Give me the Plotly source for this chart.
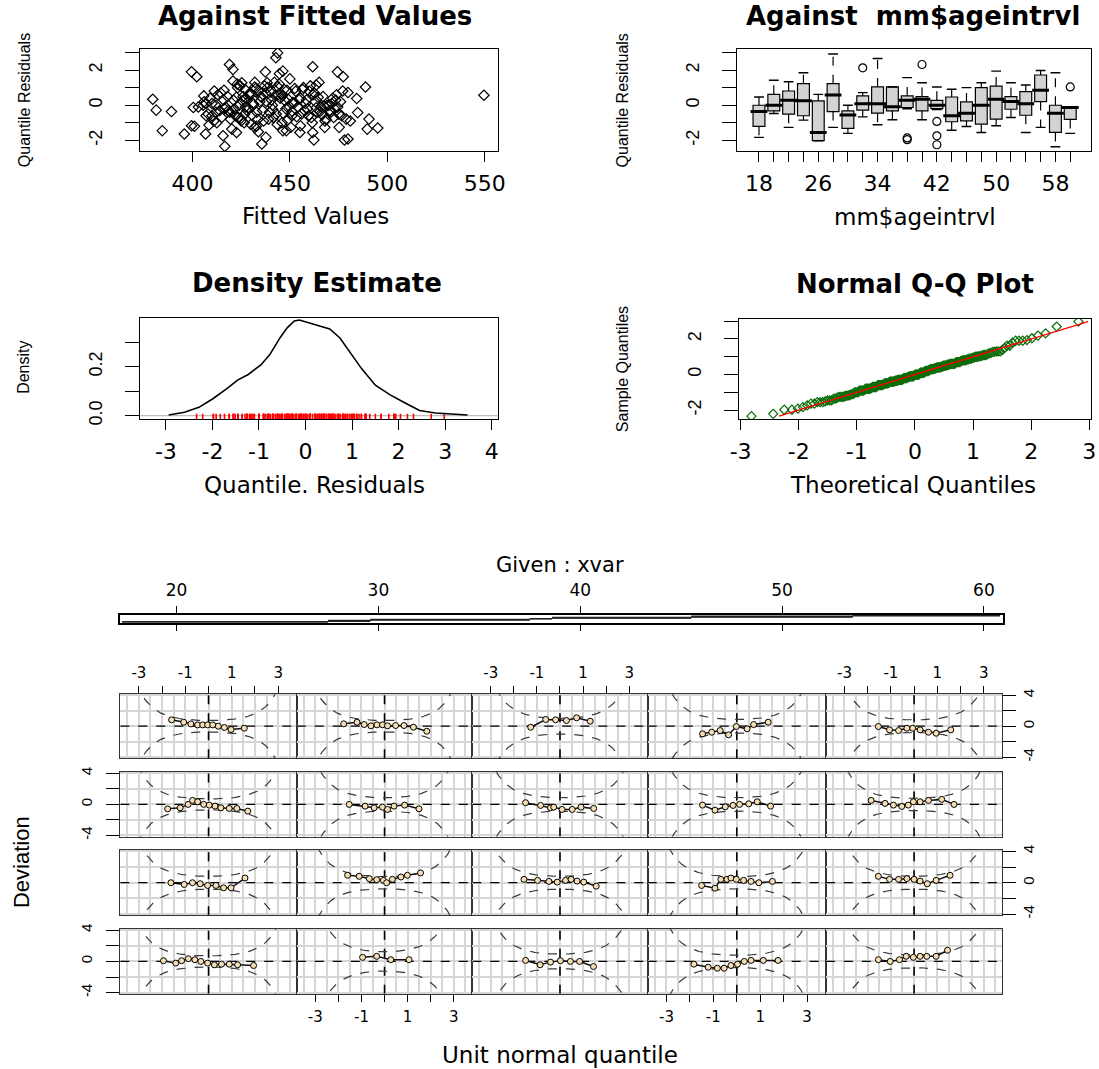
import plotly.graph_objects as go
from statistics import NormalDist

# ---------------- data ----------------
fitted = [
    379.6, 381.4, 389.2, 384.5, 395.8, 399.5, 402.2, 399.5, 400.4, 406.7,
    405.8, 411.2, 408.5, 416.2, 415.7, 416.6, 419.0, 420.8, 420.2, 422.6,
    420.8, 425.3, 432.0, 432.0, 433.8, 435.6, 437.7, 437.4, 443.7, 442.8,
    444.6, 446.4, 438.3, 446.4, 448.2, 455.4, 455.1, 461.7, 461.7, 462.3,
    463.5, 474.4, 477.4, 478.0, 479.8, 467.9, 475.3, 478.9, 488.8, 484.3,
    484.8, 490.6, 489.7, 495.1, 549.6, 477.1, 479.8, 401.0, 410.0, 412.0,
    407.0, 403.0,
    406, 408, 409, 411, 412, 413, 414, 415, 416, 417,
    418, 419, 407, 410, 412.5, 414.5, 416.5, 418.5, 419.5, 405.5,
    421, 422, 423, 424, 425, 426, 427, 428, 429, 430,
    431, 432, 433, 434, 421.5, 422.5, 423.5, 424.5, 425.5, 426.5,
    427.5, 428.5, 429.5, 430.5, 431.5, 432.5, 433.5, 434.5, 420.5, 423.2,
    426.8, 429.8, 432.8, 427.2, 424.8,
    435, 436, 437, 438, 439, 440, 441, 442, 443, 444,
    445, 446, 447, 448, 449, 450, 451, 452, 453, 454,
    435.5, 436.5, 437.5, 438.5, 439.5, 440.5, 441.5, 442.5, 443.5, 444.5,
    445.5, 446.5, 447.5, 448.5, 449.5, 450.5, 451.5, 452.5, 453.5, 454.5,
    441.2, 443.8, 446.2, 448.8, 451.2,
    455.5, 456, 457, 458, 459, 460, 461, 462, 463, 464,
    465, 466, 467, 468, 469, 456.5, 457.5, 458.5, 459.5, 460.5,
    461.5, 462.5, 463.5, 464.5, 465.5, 466.5, 467.5, 468.5,
    470, 471, 472, 473, 474, 475, 476, 470.5, 471.5, 472.5,
    473.5, 474.5, 476.5, 481,
]
resid = [
    0.34, -0.28, -0.36, -1.45, -1.64, 1.90, 1.62, -1.17, -0.13, -1.64,
    0.53, 0.81, -1.13, 0.85, -1.74, -2.34, 2.32, 2.04, -1.36, -1.55,
    1.38, 1.28, 1.04, -1.26, -1.51, -2.21, -1.83, 1.90, 2.98, 2.70,
    1.79, 1.94, 1.28, -1.45, -1.45, -1.17, -1.55, 2.19, -1.55, -1.98,
    1.15, 1.90, 1.62, -1.98, -1.92, -1.26, -1.26, -0.79, 1.04, 0.38,
    -0.42, -0.79, -1.36, -1.30, 0.57, 0.81, 0.72, -1.20, -0.60, -0.40,
    0.10, -0.10,
    0.2, -0.5, 0.4, -0.9, 0.0, 0.6, -0.3, -0.7, 0.3, -0.1,
    0.5, -0.4, -0.6, 0.1, -1.0, 0.7, -0.2, -0.3, -0.8, 0.0,
    0.3, -0.6, 1.2, 0.0, -0.9, 0.5, 0.9, -0.3, 0.6, -1.1,
    0.1, 1.3, -0.4, 0.8, -0.2, 0.45, -0.7, 1.1, 0.25, -1.0,
    0.4, -0.15, 0.7, -0.55, 0.05, 0.95, -0.8, 0.2, -0.35, 1.0,
    -0.5, 0.6, -1.2, -0.1, -0.75,
    0.5, -0.3, 1.1, 0.2, -0.8, 0.75, 0.0, 1.3, -0.5, 0.6,
    0.4, -1.0, 0.9, -0.2, 0.35, 1.5, -0.6, 0.1, 0.8, -0.1,
    0.45, -0.9, 0.7, 1.0, -0.4, 0.3, -0.7, 0.55, -1.1, 1.2,
    0.65, -0.45, 0.25, 0.85, -0.05, -1.25, 0.15, 0.95, -0.65, 0.35,
    -0.25, 1.05, 0.55, -0.85, -0.35,
    0.4, -0.5, 1.0, 0.1, -0.2, 0.8, -0.7, 0.6, 0.2, -0.4,
    1.3, -0.1, 0.5, -0.9, 0.0, 0.9, -0.3, 0.3, -0.6, 1.1,
    -1.0, 0.7, -0.15, 0.45, -0.35, -0.55, -0.05, -0.8,
    0.0, -0.4, 0.4, -0.2, 0.6, -0.5, 0.2, -0.3, 0.1, -0.7,
    0.3, -0.1, -0.6, -0.9,
]

age_cats = [18, 20, 22, 24, 26, 28, 30, 32, 34, 36, 38,
            40, 42, 44, 46, 48, 50, 52, 54, 56, 58, 60]
box_q1 = [-1.2, -0.32, -0.51, -0.6, -2.02, -0.36, -1.32, -0.28, -0.45, -0.32, -0.13,
          -0.32, -0.19, -0.94, -0.89, -1.08, -0.79, -0.23, -0.57, 0.21, -1.55, -0.81]
box_med = [-0.36, 0.0, 0.28, 0.25, -1.55, 0.58, -0.55, 0.09, 0.09, -0.09, 0.28,
           0.34, 0.0, -0.6, -0.45, 0.0, 0.34, 0.21, 0.09, 0.85, -0.45, -0.13]
box_q3 = [0.0, 0.62, 0.81, 1.23, 0.25, 1.23, -0.32, 0.53, 1.04, 1.04, 0.53,
          0.49, 0.28, 0.47, 0.19, 1.0, 1.09, 0.49, 0.77, 1.72, 0.0, -0.09]
box_lo = [-1.83, -0.47, -1.26, -0.85, -2.02, -1.26, -1.6, -0.66, -1.11, -0.83, -0.2,
          -0.83, -0.25, -1.42, -1.21, -1.55, -1.17, -0.7, -1.55, -1.26, -2.36, -1.6]
box_hi = [0.47, 1.42, 1.34, 1.85, 0.62, 2.92, 0.0, 0.72, 2.66, 1.04, 1.57,
          1.28, 1.04, 0.91, 1.0, 1.28, 1.94, 1.28, 1.15, 1.98, 1.85, -0.09]
out_cat = [32, 38, 38, 40, 42, 42, 42, 60]
out_val = [2.13, -1.86, -1.96, 2.32, -0.92, -1.74, -2.25, 1.04]

dens_x = [-2.94, -2.6, -2.29, -1.99, -1.69, -1.46, -1.23, -0.96, -0.77, -0.55, -0.39, -0.24, -0.13,
          0.06, 0.29, 0.52, 0.74, 0.97, 1.2, 1.5, 1.81, 2.11, 2.45, 2.79, 3.17, 3.48]
dens_y = [0.003, 0.014, 0.034, 0.069, 0.11, 0.145, 0.168, 0.207, 0.248, 0.317, 0.359, 0.386, 0.39,
          0.379, 0.368, 0.354, 0.317, 0.255, 0.193, 0.124, 0.086, 0.055, 0.021, 0.011, 0.007, 0.003]

given_lo = [17.3, 17.3, 17.3, 27.5, 27.5, 27.5, 29.6, 29.6, 29.6, 37.5,
            37.5, 38.6, 38.6, 38.6, 45.5, 45.5, 45.5, 53.5, 53.5, 53.5]
given_hi = [27.5, 27.5, 27.5, 29.6, 29.6, 29.6, 37.5, 37.5, 37.5, 38.6,
            38.6, 45.5, 45.5, 45.5, 53.5, 53.5, 53.5, 60.8, 60.8, 60.8]

# worm panels, row-major from the top-left panel
worm_x = [
    [-1.59, -1.07, -0.76, -0.47, -0.25, -0.04, 0.18, 0.42, 0.68, 0.97, 1.54],
    [-1.77, -1.19, -0.88, -0.59, -0.33, -0.09, 0.13, 0.48, 0.84, 1.25, 1.83],
    [-1.27, -0.62, -0.19, 0.28, 0.72, 1.31],
    [-1.46, -1.07, -0.71, -0.35, -0.02, 0.44, 0.72, 1.34],
    [-1.54, -1.06, -0.67, -0.31, -0.06, 0.26, 0.62, 0.95, 1.58],
    [-1.76, -1.22, -0.88, -0.69, -0.47, -0.21, 0.03, 0.28, 0.53, 0.89, 1.22, 1.69],
    [-1.53, -0.84, -0.45, -0.09, 0.13, 0.41, 0.87, 1.49],
    [-1.49, -0.84, -0.41, -0.27, 0.09, 0.53, 0.91, 1.46],
    [-1.46, -0.93, -0.49, -0.16, 0.12, 0.51, 0.87, 1.44],
    [-1.85, -1.25, -0.89, -0.53, -0.25, -0.03, 0.26, 0.62, 1.19, 1.72],
    [-1.62, -1.05, -0.69, -0.36, -0.04, 0.32, 0.65, 0.97, 1.57],
    [-1.6, -1.1, -0.66, -0.34, -0.05, 0.09, 0.34, 0.71, 0.99, 1.56],
    [-1.56, -0.97, -0.48, -0.12, 0.24, 0.48, 0.74, 1.03, 1.57],
    [-1.5, -0.93, -0.68, -0.42, -0.25, -0.02, 0.29, 0.61, 0.94, 1.52],
    [-1.54, -1.06, -0.67, -0.31, 0.0, 0.26, 0.57, 0.95, 1.55],
    [-1.94, -1.41, -1.16, -0.87, -0.59, -0.33, -0.04, 0.25, 0.56, 0.89, 1.25, 1.94],
    [-0.95, -0.34, 0.27, 1.06],
    [-1.49, -0.86, -0.41, 0.02, 0.45, 0.85, 1.45],
    [-1.83, -1.22, -0.83, -0.54, -0.25, 0.03, 0.32, 0.61, 1.13, 1.76],
    [-1.54, -1.03, -0.63, -0.34, -0.03, 0.26, 0.55, 0.95, 1.44],
]
worm_y = [
    [0.83, 0.52, 0.30, 0.17, 0.17, 0.17, 0.17, 0.0, -0.17, -0.43, -0.26],
    [0.31, 0.52, 0.22, 0.05, 0.18, 0.18, 0.05, 0.09, 0.09, -0.13, -0.65],
    [-0.13, 0.87, 0.83, 0.74, 1.09, 0.65],
    [-0.99, -0.78, -0.56, -1.12, -0.04, -0.34, 0.22, 0.52],
    [-0.04, -0.47, -0.56, -0.26, -0.26, -0.47, -0.78, -0.91, -0.47],
    [-0.57, -0.44, 0.0, 0.52, 0.34, 0.0, -0.09, -0.22, -0.44, -0.52, -0.52, -0.87],
    [0.0, -0.22, -0.44, -0.35, -0.65, -0.22, -0.09, -0.57],
    [0.22, -0.13, -0.44, -0.35, -0.65, -0.65, -0.35, -0.52],
    [-0.09, -0.74, -0.31, -0.13, 0.0, 0.08, 0.34, -0.22],
    [0.52, 0.13, -0.09, -0.26, -0.09, 0.34, 0.34, 0.52, 0.65, 0.0],
    [0.0, -0.22, 0.0, -0.13, -0.35, -0.35, -0.65, -0.65, 0.6],
    [0.95, 0.82, 0.52, 0.39, 0.3, 0.0, 0.43, 0.73, 0.95, 1.25],
    [0.43, 0.3, 0.17, 0.08, 0.3, 0.43, 0.21, 0.08, -0.44],
    [-0.35, -0.7, 0.43, 0.43, 0.6, 0.43, 0.3, 0.17, 0.0, 0.17],
    [0.82, 0.43, 0.43, 0.52, 0.43, 0.21, -0.13, 0.3, 0.95],
    [0.09, -0.22, 0.09, 0.35, 0.22, 0.0, -0.22, -0.43, -0.35, -0.35, -0.43, -0.52],
    [0.52, 0.65, 0.22, 0.22],
    [0.13, -0.43, -0.09, 0.09, 0.0, 0.0, -0.65],
    [-0.35, -0.74, -0.87, -0.87, -0.52, -0.35, 0.0, 0.13, 0.13, 0.13],
    [0.22, 0.0, 0.22, 0.65, 0.52, 0.65, 0.65, 0.65, 1.43],
]

# ---------------- layout helpers ----------------
# The page keeps the default 8px body margin and the photograph shrinks the
# page (figure + margins) to the window, so target positions are mapped back.
W, H = 1099, 1069
OFF = 8
SX = W / (W + 2 * OFF)
SY = H / (H + 2 * OFF)
HF = 'DejaVu Sans'
VF = 'Liberation Sans'
BLACK = 'black'


def fx(px):
    return (px / SX - OFF) / W


def fy(py):
    return 1 - (py / SY - OFF) / H


def xdom(a, b):
    return [max(0.0, fx(a)), min(1.0, fx(b))]


def ydom(top, bot):
    return [max(0.0, fy(bot)), min(1.0, fy(top))]


def akey(k, i):
    return f'{k}axis' + ('' if i == 1 else str(i))


def aref(k, i):
    return k + ('' if i == 1 else str(i))


def lab(vals, show=None):
    return [(str(v) if (show is None or v in show) else '') for v in vals]


def frame(**kw):
    d = dict(showline=True, linecolor=BLACK, linewidth=1.3, mirror=True, zeroline=False,
             showgrid=False, ticks='outside', tickcolor=BLACK, tickwidth=1.2)
    d.update(kw)
    return d


fig = go.Figure()
axes = {}
annots = []

XT = dict(family=HF, size=22, color=BLACK)
YT = dict(family=VF, size=18, color=BLACK)

# ---- panel 1: residuals vs fitted ----
res_ticks = [-2, -1, 0, 1, 2, 3]
axes[akey('x', 1)] = frame(domain=xdom(139.3, 497.2), range=[373.2, 556.7], anchor='y',
                          tickvals=[400, 450, 500, 550], ticktext=lab([400, 450, 500, 550]),
                          ticklen=10, tickfont=XT, ticklabelstandoff=2)
axes[akey('y', 1)] = frame(domain=ydom(51.7, 153.3), range=[-2.61, 3.2], anchor='x',
                          tickvals=res_ticks, ticktext=lab(res_ticks, {-2, 0, 2}),
                          ticklen=14, tickangle=-90, tickfont=YT, ticklabelstandoff=16)
fig.add_trace(go.Scatter(x=fitted, y=resid, mode='markers', xaxis='x', yaxis='y',
                         marker=dict(symbol='diamond-open', size=8, color=BLACK, line=dict(width=1.2))))

# ---- panel 2: boxplots by age interval ----
idx = list(range(1, len(age_cats) + 1))
axes[akey('x', 2)] = frame(domain=xdom(736.9, 1096.5), range=[-0.47, 23.4], anchor='y2',
                          tickvals=idx, ticktext=[str(a) if k % 4 == 0 else '' for k, a in enumerate(age_cats)],
                          ticklen=10, tickfont=XT, ticklabelstandoff=2)
axes[akey('y', 2)] = frame(domain=ydom(51.7, 153.3), range=[-2.61, 3.2], anchor='x2',
                          tickvals=res_ticks, ticktext=lab(res_ticks, {-2, 0, 2}),
                          ticklen=14, tickangle=-90, tickfont=YT, ticklabelstandoff=16)
fig.add_trace(go.Box(x=idx, q1=box_q1, median=box_med, q3=box_q3, lowerfence=box_q1, upperfence=box_q3,
                     width=0.8, whiskerwidth=0, fillcolor='#d3d3d3', line=dict(color=BLACK, width=1.2),
                     boxpoints=False, xaxis='x2', yaxis='y2'))
wx, wy = [], []
for i, xi in enumerate(idx):
    wx += [xi, xi, None, xi, xi, None]
    wy += [box_q3[i], box_hi[i], None, box_q1[i], box_lo[i], None]
fig.add_trace(go.Scatter(x=wx, y=wy, mode='lines', xaxis='x2', yaxis='y2',
                         line=dict(color=BLACK, width=1.2, dash='dash')))
fig.add_trace(go.Scatter(x=idx + idx, y=box_hi + box_lo, mode='markers', xaxis='x2', yaxis='y2',
                         marker=dict(symbol='line-ew', size=7, line=dict(width=1.4, color=BLACK))))
fig.add_trace(go.Scatter(x=idx, y=box_med, mode='markers', xaxis='x2', yaxis='y2',
                         marker=dict(symbol='line-ew', size=12, line=dict(width=3, color=BLACK))))
fig.add_trace(go.Scatter(x=[age_cats.index(c) + 1 for c in out_cat], y=out_val, mode='markers',
                         xaxis='x2', yaxis='y2',
                         marker=dict(symbol='circle-open', size=8, color=BLACK, line=dict(width=1.2))))

# ---- panel 3: density estimate ----
dens_xr = [-3.55, 4.13]
dens_yr = [-0.0135, 0.399]
dx_ticks = [-3, -2, -1, 0, 1, 2, 3, 4]
axes[akey('x', 3)] = frame(domain=xdom(139.3, 497.2), range=dens_xr, anchor='y3',
                          tickvals=dx_ticks, ticktext=lab(dx_ticks), ticklen=10, tickfont=XT, ticklabelstandoff=2)
axes[akey('y', 3)] = frame(domain=ydom(319.3, 420), range=dens_yr, anchor='x3',
                          tickvals=[0, 0.1, 0.2, 0.3], ticktext=['0.0', '', '0.2', ''],
                          ticklen=14, tickangle=-90, tickfont=YT, ticklabelstandoff=16)
fig.add_trace(go.Scatter(x=dens_xr, y=[0, 0], mode='lines', xaxis='x3', yaxis='y3',
                         line=dict(color='#bebebe', width=1.2)))
fig.add_trace(go.Scatter(x=resid, y=[dens_yr[0] / 2] * len(resid), mode='markers', xaxis='x3', yaxis='y3',
                         marker=dict(symbol='line-ns', size=5, line=dict(width=1.6, color='red'))))
fig.add_trace(go.Scatter(x=dens_x, y=dens_y, mode='lines', xaxis='x3', yaxis='y3',
                         line=dict(color=BLACK, width=1.6)))

# ---- panel 4: normal QQ ----
nd = NormalDist()
srt = sorted(resid)
n = len(srt)
theo = [nd.inv_cdf((k + 0.5) / n) for k in range(n)]
qx_ticks = [-3, -2, -1, 0, 1, 2, 3]
axes[akey('x', 4)] = frame(domain=xdom(738.6, 1095.8), range=[-3.03, 3.03], anchor='y4',
                          tickvals=qx_ticks, ticktext=lab(qx_ticks), ticklen=10, tickfont=XT, ticklabelstandoff=2)
axes[akey('y', 4)] = frame(domain=ydom(320, 420), range=[-2.5, 3.15], anchor='x4',
                          tickvals=res_ticks, ticktext=lab(res_ticks, {-2, 0, 2}),
                          ticklen=14, tickangle=-90, tickfont=YT, ticklabelstandoff=16)
fig.add_trace(go.Scatter(x=theo, y=srt, mode='markers', xaxis='x4', yaxis='y4',
                         marker=dict(symbol='diamond-open', size=7, color='#0b6e0b', line=dict(width=1.2))))
fig.add_trace(go.Scatter(x=srt, y=srt, mode='lines', xaxis='x4', yaxis='y4',
                         line=dict(color='red', width=1.3)))

# ---- panel 5: given panel ----
g_ticks = [20, 30, 40, 50, 60]
axes[akey('x', 5)] = dict(domain=xdom(119.3, 1002.7), range=[17.21, 60.93], anchor='y5', side='top',
                          showline=True, linecolor=BLACK, linewidth=1.5, mirror='ticks', ticks='outside',
                          ticklen=7, tickwidth=1.3, tickcolor=BLACK, tickvals=g_ticks, ticktext=lab(g_ticks),
                          tickfont=dict(family=HF, size=17, color=BLACK), zeroline=False, showgrid=False,
                          ticklabelstandoff=3)
axes[akey('y', 5)] = dict(domain=ydom(615, 622.7), range=[0, 1], anchor='x5', showline=True, linecolor=BLACK,
                          linewidth=1.5, mirror=True, ticks='', showticklabels=False, zeroline=False, showgrid=False)
gx, gy = [], []
for k in range(len(given_lo)):
    lvl = (k + 0.5) / len(given_lo)
    gx += [given_lo[k], given_hi[k], None]
    gy += [lvl, lvl, None]
fig.add_trace(go.Scatter(x=gx, y=gy, mode='lines', xaxis='x5', yaxis='y5', line=dict(color='#222', width=1.3)))

# ---- worm panels ----
col_l = [119.3, 296.0, 471.7, 647.3, 825.7]
col_r = [296.0, 471.7, 647.3, 825.7, 1002.3]
row_t = [694.0, 771.7, 849.3, 927.7]
row_b = [757.7, 835.7, 914.0, 992.3]
GRID = '#d6d6d6'
WX_RANGE = [-3.8, 3.8]
WY_RANGE = [-4.15, 4.15]
wx_ticks = [-3, -2, -1, 0, 1, 2, 3]
wy_ticks = [-4, -2, 0, 2, 4]
zgrid = [-3.8 + 0.05 * k for k in range(153)]
for r in range(4):
    for c in range(5):
        p = r * 5 + c
        i = 6 + p
        xa = dict(domain=xdom(col_l[c], col_r[c]), range=WX_RANGE, anchor=aref('y', i),
                  showline=True, linecolor='#333', linewidth=1.1, mirror=True, zeroline=False,
                  tickvals=wx_ticks, ticktext=lab(wx_ticks, {-3, -1, 1, 3}),
                  showgrid=True, gridcolor=GRID, gridwidth=1.5,
                  minor=dict(tickmode='linear', tick0=0.5, dtick=1, showgrid=True, gridcolor=GRID,
                             gridwidth=1.5, ticks=''),
                  tickfont=dict(family=HF, size=15, color=BLACK), tickcolor=BLACK, tickwidth=1.2)
        if r == 0 and c in (0, 2, 4):
            xa.update(side='top', ticks='outside', ticklen=7, showticklabels=True, ticklabelstandoff=2)
        elif r == 3 and c in (1, 3):
            xa.update(side='bottom', ticks='outside', ticklen=7, showticklabels=True, ticklabelstandoff=2)
        else:
            xa.update(ticks='', showticklabels=False)
        ya = dict(domain=ydom(row_t[r], row_b[r]), range=WY_RANGE, anchor=aref('x', i),
                  showline=True, linecolor='#333', linewidth=1.1, mirror=True, zeroline=False,
                  tickvals=wy_ticks, ticktext=lab(wy_ticks, {-4, 0, 4}),
                  showgrid=True, gridcolor=GRID, gridwidth=1.5,
                  tickfont=dict(family=VF, size=15, color=BLACK), tickcolor=BLACK, tickwidth=1.2,
                  tickangle=-90)
        if c == 4 and r in (0, 2):
            ya.update(side='right', ticks='outside', ticklen=13, showticklabels=True, ticklabelstandoff=0)
        elif c == 0 and r in (1, 3):
            ya.update(side='left', ticks='outside', ticklen=13, showticklabels=True, ticklabelstandoff=8)
        else:
            ya.update(ticks='', showticklabels=False)
        axes[akey('x', i)] = xa
        axes[akey('y', i)] = ya

        xr, yr = aref('x', i), aref('y', i)
        # reference lines at zero
        fig.add_trace(go.Scatter(x=[0, 0], y=WY_RANGE, mode='lines', xaxis=xr, yaxis=yr,
                                 line=dict(color=BLACK, width=1.6, dash='dash')))
        fig.add_trace(go.Scatter(x=WX_RANGE, y=[0, 0], mode='lines', xaxis=xr, yaxis=yr,
                                 line=dict(color=BLACK, width=1.3, dash='dash')))

        m = len(worm_x[p])
        hi_band, lo_band = [], []
        for z in zgrid:
            pz = nd.cdf(z)
            se = ((pz * (1 - pz) / m) ** 0.5) / nd.pdf(z)
            v = min(1.96 * se, 50)
            hi_band.append(v)
            lo_band.append(-v)
        for band in (hi_band, lo_band):
            fig.add_trace(go.Scatter(x=zgrid, y=band, mode='lines', xaxis=xr, yaxis=yr,
                                     line=dict(color='#3a3a3a', width=1.2, dash='dash')))
        fig.add_trace(go.Scatter(x=worm_x[p], y=worm_y[p], mode='lines+markers', xaxis=xr, yaxis=yr,
                                 line=dict(color='#111', width=1.5),
                                 marker=dict(size=6, color='#F5DEB3', line=dict(color=BLACK, width=1))))


# ---- text ----
def ann(text, x, y, size, family=HF, bold=False, angle=0):
    t = f'<b>{text}</b>' if bold else text
    annots.append(dict(text=t, x=fx(x), y=fy(y), xref='paper', yref='paper', showarrow=False,
                       xanchor='center', yanchor='middle', textangle=angle,
                       font=dict(family=family, size=size, color=BLACK)))


ann('Against Fitted Values', 314, 19, 26, bold=True)
ann('Against\u00a0 mm$ageintrvl', 913, 19, 26, bold=True)
ann('Density Estimate', 316, 285, 26, bold=True)
ann('Normal Q-Q Plot', 915, 286, 26, bold=True)
ann('Fitted Values', 315, 218, 23)
ann('mm$ageintrvl', 915, 219, 23)
ann('Quantile. Residuals', 314, 486, 23)
ann('Theoretical Quantiles', 913, 486, 23)
ann('Quantile Residuals', 23, 102.5, 16, family=VF, angle=-90)
ann('Quantile Residuals', 622, 102.5, 16, family=VF, angle=-90)
ann('Density', 23, 369, 16, family=VF, angle=-90)
ann('Sample Quantiles', 622, 370, 16, family=VF, angle=-90)
ann('Given : xvar', 560, 565, 21)
ann('Unit normal quantile', 560, 1053, 23)
ann('Deviation', 21, 861, 22, family=VF, angle=-90)

fig.update_layout(width=W, height=H, margin=dict(l=0, r=0, t=0, b=0), paper_bgcolor='white',
                  plot_bgcolor='white', showlegend=False, annotations=annots,
                  font=dict(family=HF, color=BLACK), **axes)

fig.write_html('out.html')
